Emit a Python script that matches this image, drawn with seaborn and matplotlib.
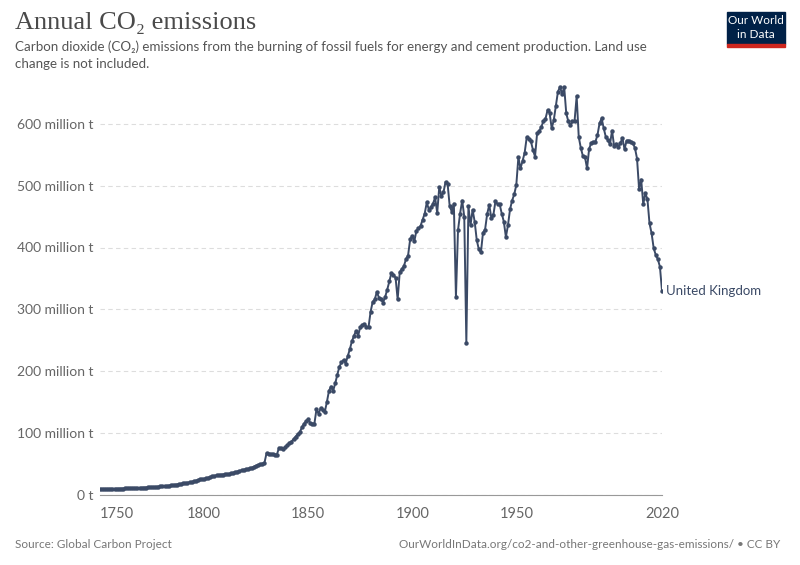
import pandas as pd
import matplotlib.pyplot as plt
import seaborn as sns
from matplotlib.patches import Rectangle

# === Data: annual CO2 emissions, United Kingdom (million tonnes), 1750-2020 ===
years = list(range(1750, 2021))
emissions = [
    9.3, 9.3, 9.4, 9.4, 9.4, 9.5, 9.5, 9.6, 9.6, 9.7,            # 1750s
    9.9, 10.0, 10.1, 10.2, 10.3, 10.4, 10.5, 10.7, 10.8, 11.0,   # 1760s
    11.2, 11.4, 11.5, 11.7, 11.9, 12.1, 12.4, 12.7, 13.0, 13.3,  # 1770s
    13.6, 13.9, 14.2, 14.6, 15.0, 15.5, 16.0, 16.5, 17.0, 17.6,  # 1780s
    18.2, 18.8, 19.4, 20.0, 20.7, 21.5, 22.5, 23.6, 24.6, 25.2,  # 1790s
    25.5, 26.5, 27.5, 28.5, 29.5, 30.5, 31.5, 32.0, 32.3, 32.6,  # 1800s
    33.0, 33.3, 33.6, 34.5, 35.5, 36.5, 37.5, 38.5, 39.5, 40.5,  # 1810s
    41.0, 41.8, 42.6, 43.8, 45.5, 47.0, 48.2, 49.3, 50.3, 51.5,  # 1820s
    67, 66.5, 66, 65.5, 65, 65, 76, 75, 74, 77,                  # 1830s
    80, 83, 86, 90, 94, 98, 101, 109, 115, 119,                  # 1840s
    122, 116, 115, 115, 138, 131, 140, 137, 134, 150,            # 1850s
    168, 175, 168, 180, 194, 207, 214, 218, 212, 224,            # 1860s
    235, 248, 257, 265, 257, 271, 274, 276, 272, 271,            # 1870s
    296, 312, 316, 328, 319, 316, 311, 320, 332, 345,            # 1880s
    359, 356, 351, 316, 360, 365, 370, 381, 387, 413,            # 1890s
    419, 410, 427, 431, 435, 445, 455, 473, 461, 465,            # 1900s
    471, 481, 456, 498, 483, 489, 506, 503, 467, 458,            # 1910s
    471, 320, 428, 455, 476, 450, 246, 467, 436, 461,            # 1920s
    442, 412, 397, 392, 424, 429, 454, 469, 448, 453,            # 1930s
    475, 470, 470, 455, 442, 417, 436, 462, 476, 486,            # 1940s
    501, 546, 528, 540, 553, 578, 576, 572, 558, 547,            # 1950s
    585, 588, 595, 604, 608, 622, 618, 593, 606, 629,            # 1960s
    652, 660, 648, 660, 617, 604, 598, 604, 605, 645,            # 1970s
    579, 561, 548, 546, 528, 560, 569, 571, 571, 582,            # 1980s
    601, 609, 593, 579, 574, 567, 589, 564, 568, 562,            # 1990s
    569, 577, 559, 573, 573, 571, 569, 561, 544, 494,            # 2000s
    510, 470, 488, 478, 439, 423, 399, 388, 381, 369,            # 2010s
    330,                                                         # 2020
]
country = "United Kingdom"

y_ticks = [0, 100, 200, 300, 400, 500, 600]
y_labels = ["0 t", "100 million t", "200 million t", "300 million t",
            "400 million t", "500 million t", "600 million t"]
x_ticks = [1750, 1800, 1850, 1900, 1950, 2020]

df = pd.DataFrame({"year": years, "co2": emissions})

line_color = "#3b4a66"
W, H = 800, 565
y_max = 680
px_per_unit = 0.618  # pixels per million t

sns.set_style("white")
plt.rcParams["font.family"] = ["Lato", "DejaVu Sans"]

fig = plt.figure(figsize=(W / 100, H / 100), dpi=100)
ax = fig.add_axes([100 / W, 1 - 494.7 / H, 562 / W, y_max * px_per_unit / H])

sns.lineplot(data=df, x="year", y="co2", ax=ax, color=line_color,
             linewidth=1.4, marker="o", markersize=3.2, markeredgewidth=0)

ax.set_xlim(1750, 2020)
ax.set_ylim(0, y_max)
ax.set_xlabel("")
ax.set_ylabel("")

ax.set_yticks(y_ticks)
ax.set_yticklabels(y_labels)
ax.set_xticks(x_ticks)
ax.set_xticklabels([str(t) for t in x_ticks])
ax.get_xticklabels()[0].set_horizontalalignment("left")

ax.tick_params(axis="y", length=0, pad=5, labelsize=10, labelcolor="#666666")
ax.tick_params(axis="x", length=5, width=0.8, color="#999999", pad=4,
               labelsize=10.5, labelcolor="#666666")

ax.yaxis.grid(True, linestyle=(0, (4, 3)), color="#dddddd", linewidth=0.8)
ax.xaxis.grid(False)
for side in ["top", "right", "left"]:
    ax.spines[side].set_visible(False)
ax.spines["bottom"].set_color("#999999")
ax.spines["bottom"].set_linewidth(0.8)

# end-of-line label
ax.annotate(country, xy=(years[-1], emissions[-1]), xytext=(3, 0),
            textcoords="offset points", va="center", ha="left",
            fontsize=9.5, color=line_color, annotation_clip=False)

# === Header ===
fig.text(15 / W, 1 - 23 / H, "Annual CO₂ emissions", fontsize=19,
         family=["Liberation Serif", "DejaVu Serif"], color="#4a4a4a",
         va="center", ha="left")
fig.text(15 / W, 1 - 47 / H,
         "Carbon dioxide (CO₂) emissions from the burning of fossil fuels for "
         "energy and cement production. Land use",
         fontsize=9.6, color="#555555", va="center", ha="left")
fig.text(15 / W, 1 - 64 / H, "change is not included.",
         fontsize=9.6, color="#555555", va="center", ha="left")

# logo
fig.patches.append(Rectangle((727 / W, 1 - 44 / H), 58 / W, 32 / H,
                             transform=fig.transFigure, color="#002147"))
fig.patches.append(Rectangle((727 / W, 1 - 47 / H), 58 / W, 3 / H,
                             transform=fig.transFigure, color="#ce261e"))
fig.text(756 / W, 1 - 21 / H, "Our World", fontsize=8.5, color="white",
         ha="center", va="center")
fig.text(756 / W, 1 - 35 / H, "in Data", fontsize=8.5, color="white",
         ha="center", va="center")

# === Footer ===
fig.text(15 / W, 1 - 544 / H, "Source: Global Carbon Project",
         fontsize=8.5, color="#777777", ha="left", va="center")
fig.text(780 / W, 1 - 544 / H,
         "OurWorldInData.org/co2-and-other-greenhouse-gas-emissions/ • CC BY",
         fontsize=8.5, color="#777777", ha="right", va="center")

fig.savefig("out.png", dpi=100)
